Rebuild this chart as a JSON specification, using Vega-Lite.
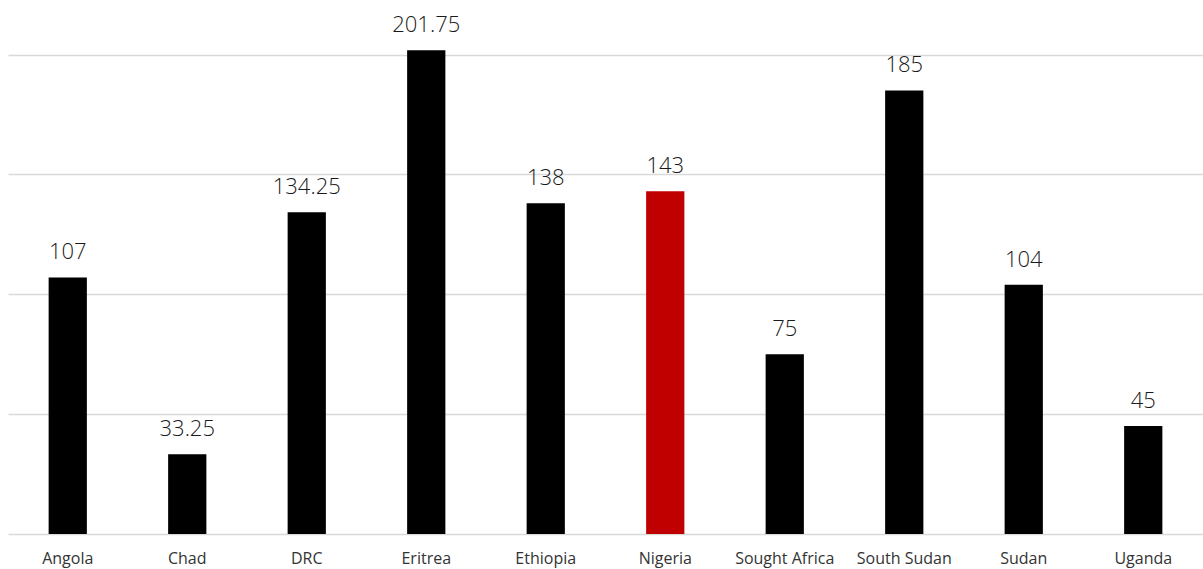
{
  "$schema": "https://vega.github.io/schema/vega-lite/v6.json",
  "width": 1195,
  "height": 534,
  "padding": {"left": 8, "top": 0, "right": 0, "bottom": 3},
  "background": "white",
  "config": {"view": {"stroke": null}, "font": "Open Sans"},
  "data": {"values": [
    {"country": "Angola", "value": 107},
    {"country": "Chad", "value": 33.25},
    {"country": "DRC", "value": 134.25},
    {"country": "Eritrea", "value": 201.75},
    {"country": "Ethiopia", "value": 138},
    {"country": "Nigeria", "value": 143},
    {"country": "Sought Africa", "value": 75},
    {"country": "South Sudan", "value": 185},
    {"country": "Sudan", "value": 104},
    {"country": "Uganda", "value": 45}
  ]},
  "encoding": {
    "x": {"field": "country", "type": "nominal", "sort": null,
      "scale": {"paddingInner": 0.68, "paddingOuter": 0.34},
      "axis": {"title": null, "domain": false, "ticks": false, "labelAngle": 0,
        "labelFont": "Open Sans", "labelFontSize": 16, "labelColor": "#333333", "labelPadding": 16}},
    "y": {"field": "value", "type": "quantitative",
      "scale": {"domain": [0, 222.75], "nice": false, "zero": true},
      "axis": {"title": null, "labels": false, "ticks": false, "domain": false,
        "values": [0, 50, 100, 150, 200], "grid": true, "gridColor": "#d9d9d9", "gridWidth": 1.5}}
  },
  "layer": [
    {"mark": {"type": "bar"},
     "encoding": {"color": {"condition": {"test": "datum.country === 'Nigeria'", "value": "#C00000"}, "value": "#000000"}}},
    {"mark": {"type": "text", "baseline": "alphabetic", "dy": -18, "font": "Open Sans", "fontSize": 22, "fontWeight": 300, "color": "#1a1a1a"},
     "encoding": {"text": {"field": "value", "type": "quantitative", "format": ".2~f"}}}
  ]
}
